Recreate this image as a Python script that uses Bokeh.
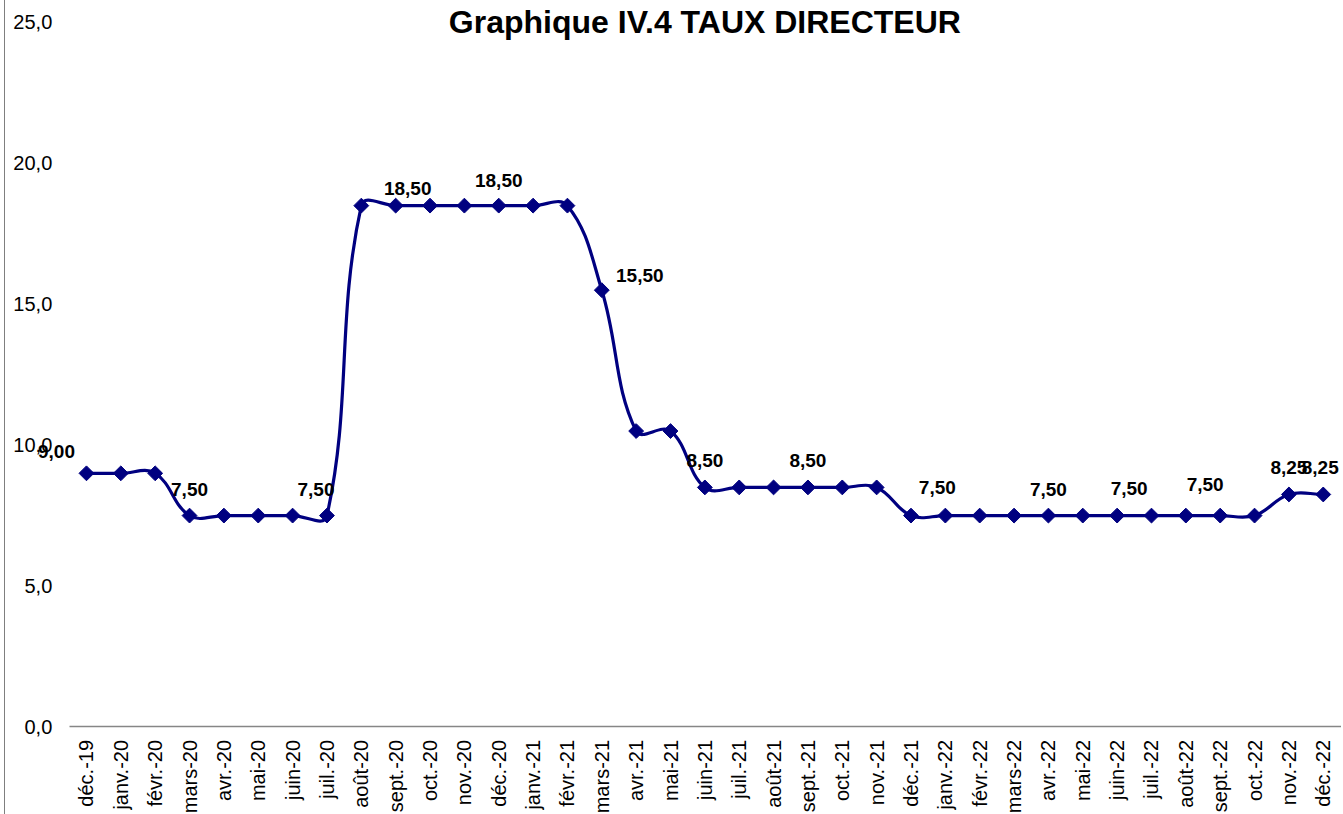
import math
from bokeh.plotting import figure
from bokeh.models import FixedTicker, Label, ColumnDataSource
from bokeh.embed import file_html
from bokeh.resources import INLINE

# ---- data ----
months = ["déc.-19", "janv.-20", "févr.-20", "mars-20", "avr.-20", "mai-20", "juin-20",
          "juil.-20", "août-20", "sept.-20", "oct.-20", "nov.-20", "déc.-20", "janv.-21",
          "févr.-21", "mars-21", "avr.-21", "mai-21", "juin-21", "juil.-21", "août-21",
          "sept.-21", "oct.-21", "nov.-21", "déc.-21", "janv.-22", "févr.-22", "mars-22",
          "avr.-22", "mai-22", "juin-22", "juil.-22", "août-22", "sept.-22", "oct.-22",
          "nov.-22", "déc.-22"]
rates = [9.0, 9.0, 9.0, 7.5, 7.5, 7.5, 7.5, 7.5, 18.5, 18.5, 18.5, 18.5, 18.5, 18.5,
         18.5, 15.5, 10.5, 10.5, 8.5, 8.5, 8.5, 8.5, 8.5, 8.5, 7.5, 7.5, 7.5, 7.5,
         7.5, 7.5, 7.5, 7.5, 7.5, 7.5, 7.5, 8.25, 8.25]
y_ticks = [0, 5, 10, 15, 20, 25]
y_tick_labels = ["0,0", "5,0", "10,0", "15,0", "20,0", "25,0"]
title_text = "Graphique IV.4 TAUX DIRECTEUR"

# which points carry a data label, and the label nudges (screen px)
label_idx = [0, 3, 7, 9, 12, 15, 18, 21, 25, 28, 30, 33, 35, 36]
label_dx = [-30, 0, -11, 12, 0, 38, 0, 0, -8, 0, 12, -15, 0, -3]
label_dy = [-22, -26, -26, -17, -25, -15, -27, -27, -28, -26, -27, -31, -27, -27]

NAVY = "#000080"
FONT = "Liberation Sans"

n = len(rates)
xs = list(range(n))

# the frame fills the whole canvas; the axes are pinned inside it
X_START, X_END = -2.357, 36.56
Y_START, Y_END = -3.108, 25.78

p = figure(width=1337, height=814, output_backend="svg", toolbar_location=None,
           x_range=(X_START, X_END), y_range=(Y_START, Y_END),
           min_border_left=0, min_border_right=0, min_border_top=0, min_border_bottom=0,
           styles={"margin-left": "4px", "border-left": "1px solid #7f7f7f"})
p.outline_line_color = None
p.background_fill_color = "white"
p.border_fill_color = "white"
p.xgrid.visible = False
p.ygrid.visible = False

# y axis
p.yaxis.fixed_location = -0.5
p.yaxis.bounds = (0, 25)
p.yaxis.ticker = FixedTicker(ticks=y_ticks)
p.yaxis.major_label_overrides = {t: l for t, l in zip(y_ticks, y_tick_labels)}
p.yaxis.axis_line_color = None
p.yaxis.major_tick_line_color = None
p.yaxis.minor_tick_line_color = None
p.yaxis.major_tick_out = 0
p.yaxis.major_tick_in = 0
p.yaxis.major_label_standoff = 17
p.yaxis.major_label_text_font = FONT
p.yaxis.major_label_text_font_size = "20px"
p.yaxis.major_label_text_color = "black"

# x axis
p.xaxis.fixed_location = 0
p.xaxis.bounds = (-0.5, X_END)
p.xaxis.ticker = FixedTicker(ticks=xs)
p.xaxis.major_label_overrides = {i: m for i, m in zip(xs, months)}
p.xaxis.major_label_orientation = math.pi / 2
p.xaxis.axis_line_color = "#868686"
p.xaxis.axis_line_width = 1.5
p.xaxis.major_tick_line_color = None
p.xaxis.minor_tick_line_color = None
p.xaxis.major_tick_out = 0
p.xaxis.major_tick_in = 0
p.xaxis.major_label_standoff = 13
p.xaxis.major_label_text_font = FONT
p.xaxis.major_label_text_font_size = "20px"
p.xaxis.major_label_text_color = "black"

# smoothed line (Bezier segments with control points derived from the data)
SX, SY = 34.36, 28.18
K = 0.4


def pt(i):
    i = max(0, min(n - 1, i))
    return (xs[i], rates[i])


def dist(a, b):
    return math.hypot((b[0] - a[0]) * SX, (b[1] - a[1]) * SY)


seg = dict(x0=[], y0=[], x1=[], y1=[], cx0=[], cy0=[], cx1=[], cy1=[])
for i in range(n - 1):
    P0, P1, P2, P3 = pt(i - 1), pt(i), pt(i + 1), pt(i + 2)
    d01, d12, d23 = dist(P0, P1), dist(P1, P2), dist(P2, P3)
    r1 = d12 / (d01 + d12) if (d01 + d12) > 0 else 0
    r2 = d12 / (d12 + d23) if (d12 + d23) > 0 else 0
    seg["x0"].append(P1[0]); seg["y0"].append(P1[1])
    seg["x1"].append(P2[0]); seg["y1"].append(P2[1])
    seg["cx0"].append(P1[0] + (P2[0] - P0[0]) * r1 * K)
    seg["cy0"].append(P1[1] + (P2[1] - P0[1]) * r1 * K)
    seg["cx1"].append(P2[0] - (P3[0] - P1[0]) * r2 * K)
    seg["cy1"].append(P2[1] - (P3[1] - P1[1]) * r2 * K)

p.bezier(x0="x0", y0="y0", x1="x1", y1="y1", cx0="cx0", cy0="cy0", cx1="cx1", cy1="cy1",
         source=ColumnDataSource(seg), line_color=NAVY, line_width=3.2)

# diamond markers
p.scatter(xs, rates, marker="square", angle=math.pi / 4, size=10.5,
          fill_color=NAVY, line_color=NAVY, line_width=1)

# data labels
for i, dx, dy in zip(label_idx, label_dx, label_dy):
    p.add_layout(Label(x=xs[i], y=rates[i], text=f"{rates[i]:.2f}".replace(".", ","),
                       x_offset=dx, y_offset=-dy,
                       text_font=FONT, text_font_style="bold", text_font_size="19px",
                       text_color="black", text_align="center", text_baseline="middle"))

# title
p.add_layout(Label(x=18, y=25.0, text=title_text, text_font=FONT,
                   text_font_style="bold", text_font_size="32px", text_color="black",
                   text_align="center", text_baseline="alphabetic"))

open("out.html", "w").write(file_html(p, INLINE))
